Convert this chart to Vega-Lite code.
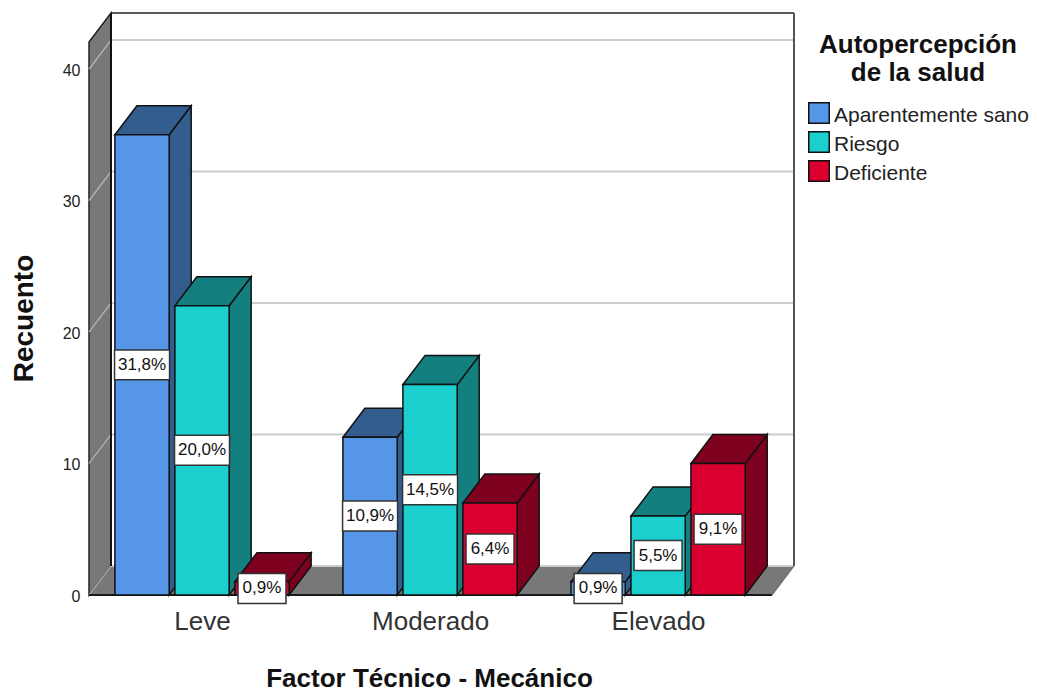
{
  "$schema": "https://vega.github.io/schema/vega-lite/v6.json",
  "width": 705,
  "height": 582,
  "autosize": {"type": "none"},
  "padding": {"left": 89, "top": 13, "right": 243, "bottom": 96},
  "background": "white",
  "params": [
    {"name": "fondoX", "value": 0.0965},
    {"name": "fondoY", "value": 2.205},
    {"name": "anchoBarra", "value": 0.238},
    {"name": "pasoBarra", "value": 0.263}
  ],
  "datasets": {
    "recuentos": [
      {"factor": "Leve", "salud": "Aparentemente sano", "recuento": 35, "porcentaje": "31,8%"},
      {"factor": "Leve", "salud": "Riesgo", "recuento": 22, "porcentaje": "20,0%"},
      {"factor": "Leve", "salud": "Deficiente", "recuento": 1, "porcentaje": "0,9%"},
      {"factor": "Moderado", "salud": "Aparentemente sano", "recuento": 12, "porcentaje": "10,9%"},
      {"factor": "Moderado", "salud": "Riesgo", "recuento": 16, "porcentaje": "14,5%"},
      {"factor": "Moderado", "salud": "Deficiente", "recuento": 7, "porcentaje": "6,4%"},
      {"factor": "Elevado", "salud": "Aparentemente sano", "recuento": 1, "porcentaje": "0,9%"},
      {"factor": "Elevado", "salud": "Riesgo", "recuento": 6, "porcentaje": "5,5%"},
      {"factor": "Elevado", "salud": "Deficiente", "recuento": 10, "porcentaje": "9,1%"}
    ],
    "rejilla": [{"nivel": 0}, {"nivel": 10}, {"nivel": 20}, {"nivel": 30}, {"nivel": 40}],
    "paredIzquierda": [
      {"px": -0.4956, "base": 0, "tope": 42.055},
      {"px": -0.3991, "base": 2.205, "tope": 44.26}
    ],
    "suelo": [
      {"py": 0, "desde": -0.4956, "hasta": 2.4995},
      {"py": 2.205, "desde": -0.3991, "hasta": 2.596}
    ],
    "unaFila": [{"fila": 1}]
  },
  "layer": [
    {
      "description": "Left wall, carries both axes",
      "data": {"name": "paredIzquierda"},
      "mark": {"type": "area", "fill": "#787878", "stroke": "#222222", "strokeWidth": 1.5},
      "encoding": {
        "x": {
          "field": "px",
          "type": "quantitative",
          "scale": {"domain": [-0.4956, 2.596], "nice": false, "zero": false},
          "axis": {
            "values": [0, 1, 2],
            "labelExpr": "datum.value === 0 ? 'Leve' : datum.value === 1 ? 'Moderado' : 'Elevado'",
            "grid": false,
            "ticks": false,
            "domain": false,
            "labelFont": "Liberation Sans",
            "labelFontSize": 26,
            "labelColor": "#333333",
            "labelPadding": 13,
            "title": "Factor Técnico - Mecánico",
            "titleFont": "Liberation Sans",
            "titleFontSize": 26,
            "titleFontWeight": "bold",
            "titleColor": "#111111",
            "titleX": 340,
            "titleY": 83,
            "titleBaseline": "middle",
            "titleAnchor": "middle"
          }
        },
        "y": {
          "field": "base",
          "type": "quantitative",
          "scale": {"domain": [0, 44.26], "nice": false, "zero": false},
          "axis": {
            "values": [0, 10, 20, 30, 40],
            "grid": false,
            "ticks": false,
            "domain": false,
            "labelFont": "Liberation Sans",
            "labelFontSize": 16,
            "labelColor": "#222222",
            "labelPadding": 9,
            "labelOffset": 1,
            "title": "Recuento",
            "titleFont": "Liberation Sans",
            "titleFontSize": 28,
            "titleFontWeight": "bold",
            "titleColor": "#111111",
            "titleX": -65,
            "titleY": 305,
            "titleBaseline": "middle",
            "titleAnchor": "middle"
          }
        },
        "y2": {"field": "tope"}
      }
    },
    {
      "description": "Floor",
      "data": {"name": "suelo"},
      "mark": {"type": "area", "orient": "horizontal", "fill": "#787878"},
      "encoding": {
        "y": {"field": "py", "type": "quantitative"},
        "x": {"field": "desde", "type": "quantitative"},
        "x2": {"field": "hasta"}
      }
    },
    {
      "description": "Gridlines on the left wall",
      "data": {"name": "rejilla"},
      "transform": [{"calculate": "datum.nivel + fondoY", "as": "nivelFondo"}],
      "mark": {"type": "rule", "stroke": "#bdbdbd", "strokeWidth": 1.2},
      "encoding": {
        "x": {"datum": -0.4956, "type": "quantitative"},
        "x2": {"datum": -0.3991},
        "y": {"field": "nivel", "type": "quantitative"},
        "y2": {"field": "nivelFondo"}
      }
    },
    {
      "description": "Gridlines on the back wall",
      "data": {"name": "rejilla"},
      "transform": [{"calculate": "datum.nivel + fondoY", "as": "nivelFondo"}],
      "mark": {"type": "rule", "stroke": "#cccccc", "strokeWidth": 2},
      "encoding": {
        "x": {"datum": -0.3991, "type": "quantitative"},
        "x2": {"datum": 2.596},
        "y": {"field": "nivelFondo", "type": "quantitative"}
      }
    },
    {
      "description": "Front edge of the floor",
      "data": {"name": "unaFila"},
      "mark": {"type": "rule", "stroke": "#1a1a1a", "strokeWidth": 2},
      "encoding": {
        "x": {"datum": -0.4956, "type": "quantitative"},
        "x2": {"datum": 2.4995},
        "y": {"datum": 0, "type": "quantitative"}
      }
    },
    {
      "description": "Back wall left edge",
      "data": {"name": "unaFila"},
      "mark": {"type": "rule", "stroke": "#111111", "strokeWidth": 2},
      "encoding": {
        "x": {"datum": -0.3991, "type": "quantitative"},
        "y": {"datum": 2.205, "type": "quantitative"},
        "y2": {"datum": 44.26}
      }
    },
    {
      "description": "Back wall top edge",
      "data": {"name": "unaFila"},
      "mark": {"type": "rule", "stroke": "#222222", "strokeWidth": 1.5},
      "encoding": {
        "x": {"datum": -0.3991, "type": "quantitative"},
        "x2": {"datum": 2.596},
        "y": {"datum": 44.26, "type": "quantitative"}
      }
    },
    {
      "description": "Back wall right edge",
      "data": {"name": "unaFila"},
      "mark": {"type": "rule", "stroke": "#555555", "strokeWidth": 2},
      "encoding": {
        "x": {"datum": 2.596, "type": "quantitative"},
        "y": {"datum": 2.205, "type": "quantitative"},
        "y2": {"datum": 44.26}
      }
    },
    {
      "description": "Slanted closing edge from the back wall to the floor corner",
      "data": {"name": "unaFila"},
      "mark": {"type": "rule", "stroke": "#666666", "strokeWidth": 1.2},
      "encoding": {
        "x": {"datum": 2.596, "type": "quantitative"},
        "x2": {"datum": 2.4995},
        "y": {"datum": 2.205, "type": "quantitative"},
        "y2": {"datum": 0}
      }
    },
    {
      "description": "Bars: side faces, top faces, front faces, then the percentage labels",
      "data": {"name": "recuentos"},
      "transform": [
        {"calculate": "indexof(['Leve', 'Moderado', 'Elevado'], datum.factor)", "as": "grupo"},
        {"calculate": "indexof(['Aparentemente sano', 'Riesgo', 'Deficiente'], datum.salud) - 1", "as": "serie"},
        {"calculate": "datum.grupo + datum.serie * pasoBarra", "as": "centro"},
        {"calculate": "datum.centro - anchoBarra / 2", "as": "izq"},
        {"calculate": "datum.centro + anchoBarra / 2", "as": "der"},
        {"calculate": "datum.factor + '|' + datum.salud", "as": "barra"}
      ],
      "layer": [
        {
          "transform": [
            {"calculate": "[0, 1]", "as": "v"},
            {"flatten": ["v"]},
            {"calculate": "datum.der + datum.v * fondoX", "as": "sx"},
            {"calculate": "datum.recuento + datum.v * fondoY", "as": "sy"},
            {"calculate": "datum.v * fondoY", "as": "sy2"}
          ],
          "mark": {"type": "area", "stroke": "#111111", "strokeWidth": 1.5},
          "encoding": {
            "x": {"field": "sx", "type": "quantitative"},
            "y": {"field": "sy", "type": "quantitative"},
            "y2": {"field": "sy2"},
            "detail": {"field": "barra"},
            "fill": {
              "condition": [
                {"test": "datum.salud === 'Aparentemente sano'", "value": "#335C8F"},
                {"test": "datum.salud === 'Riesgo'", "value": "#137F7F"}
              ],
              "value": "#7D001E"
            }
          }
        },
        {
          "transform": [
            {"calculate": "[0, 1]", "as": "v"},
            {"flatten": ["v"]},
            {"calculate": "datum.izq + datum.v * fondoX", "as": "tx"},
            {"calculate": "datum.der + datum.v * fondoX", "as": "tx2"},
            {"calculate": "datum.recuento + datum.v * fondoY", "as": "ty"}
          ],
          "mark": {"type": "area", "orient": "horizontal", "stroke": "#111111", "strokeWidth": 1.5},
          "encoding": {
            "y": {"field": "ty", "type": "quantitative"},
            "x": {"field": "tx", "type": "quantitative"},
            "x2": {"field": "tx2"},
            "detail": {"field": "barra"},
            "fill": {
              "condition": [
                {"test": "datum.salud === 'Aparentemente sano'", "value": "#335C8F"},
                {"test": "datum.salud === 'Riesgo'", "value": "#137F7F"}
              ],
              "value": "#7D001E"
            }
          }
        },
        {
          "mark": {"type": "rect", "stroke": "#111111", "strokeWidth": 1.5},
          "encoding": {
            "x": {"field": "izq", "type": "quantitative"},
            "x2": {"field": "der"},
            "y": {"field": "recuento", "type": "quantitative"},
            "y2": {"datum": 0},
            "fill": {
              "field": "salud",
              "type": "nominal",
              "scale": {
                "domain": ["Aparentemente sano", "Riesgo", "Deficiente"],
                "range": ["#5596E6", "#1CCFCF", "#D9002F"]
              },
              "legend": {
                "orient": "none",
                "legendX": 719,
                "legendY": 19,
                "title": ["Autopercepción", "de la salud"],
                "titleFont": "Liberation Sans",
                "titleFontSize": 26,
                "titleFontWeight": "bold",
                "titleColor": "#111111",
                "titleLineHeight": 28,
                "titleAnchor": "middle",
                "titleAlign": "center",
                "titleLimit": 300,
                "titlePadding": 16,
                "symbolType": "square",
                "symbolSize": 420,
                "symbolStrokeColor": "#111111",
                "symbolStrokeWidth": 1.5,
                "symbolOpacity": 1,
                "labelFont": "Liberation Sans",
                "labelFontSize": 21,
                "labelColor": "#222222",
                "labelOffset": 4,
                "rowPadding": 1,
                "labelLimit": 260,
                "encoding": {"labels": {"dy": {"value": 3}}}
              }
            }
          }
        },
        {
          "transform": [
            {"calculate": "(length(datum.porcentaje) >= 5 ? 55 : 48) / 228", "as": "anchoCaja"},
            {"calculate": "datum.centro - datum.anchoCaja / 2", "as": "cajaIzq"},
            {"calculate": "datum.centro + datum.anchoCaja / 2", "as": "cajaDer"},
            {"calculate": "datum.recuento / 2 - 1.14", "as": "cajaBase"},
            {"calculate": "datum.recuento / 2 + 1.14", "as": "cajaTope"}
          ],
          "mark": {"type": "rect", "fill": "white", "stroke": "#333333", "strokeWidth": 1.5},
          "encoding": {
            "x": {"field": "cajaIzq", "type": "quantitative"},
            "x2": {"field": "cajaDer"},
            "y": {"field": "cajaBase", "type": "quantitative"},
            "y2": {"field": "cajaTope"}
          }
        },
        {
          "transform": [{"calculate": "datum.recuento / 2", "as": "mitad"}],
          "mark": {"type": "text", "font": "Liberation Sans", "fontSize": 17, "fill": "#111111", "baseline": "middle", "align": "center"},
          "encoding": {
            "x": {"field": "centro", "type": "quantitative"},
            "y": {"field": "mitad", "type": "quantitative"},
            "text": {"field": "porcentaje", "type": "nominal"}
          }
        }
      ]
    }
  ],
  "config": {"view": {"stroke": null}, "axis": {"grid": false, "ticks": false, "domain": false}}
}
